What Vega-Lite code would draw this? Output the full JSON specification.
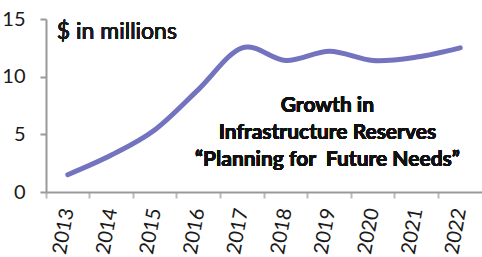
{
  "$schema": "https://vega.github.io/schema/vega-lite/v6.json",
  "autosize": "none",
  "width": 436,
  "height": 173,
  "padding": {"left": 46, "top": 19, "right": 0, "bottom": 65},
  "background": "white",
  "config": {"view": {"stroke": null}, "font": "Lato"},
  "data": {"values": [
    {"year": "2013", "value": 1.5},
    {"year": "2014", "value": 3.2},
    {"year": "2015", "value": 5.4},
    {"year": "2016", "value": 8.9},
    {"year": "2017", "value": 12.5},
    {"year": "2018", "value": 11.4},
    {"year": "2019", "value": 12.2},
    {"year": "2020", "value": 11.4},
    {"year": "2021", "value": 11.7},
    {"year": "2022", "value": 12.5}
  ]},
  "layer": [
    {
      "mark": {"type": "line", "interpolate": "cardinal", "color": "#7373bf", "strokeWidth": 5, "strokeCap": "round"},
      "encoding": {
        "x": {"field": "year", "type": "ordinal", "bandPosition": 0.5,
              "scale": {"type": "band", "paddingInner": 0, "paddingOuter": 0},
              "axis": {"title": null, "bandPosition": 0, "labelAngle": -80, "labelFontSize": 20, "labelFont": "Lato", "labelColor": "#1a1a1a", "domainColor": "#999999", "tickColor": "#bbbbbb", "tickSize": 6, "tickWidth": 2, "labelPadding": 10, "domainWidth": 2}},
        "y": {"field": "value", "type": "quantitative",
              "scale": {"domain": [0, 15], "nice": false},
              "axis": {"title": null, "values": [0, 5, 10, 15], "grid": false, "labelFontSize": 20, "labelFont": "Lato", "labelColor": "#1a1a1a", "domainColor": "#999999", "tickColor": "#999999", "tickSize": 6, "labelPadding": 15, "domainWidth": 2, "tickWidth": 2}}
      }
    },
    {
      "mark": {"type": "text", "text": "$ in millions", "align": "left", "baseline": "alphabetic", "fontSize": 23, "font": "Lato", "color": "#1a1a1a", "dx": -11},
      "encoding": {"x": {"datum": "2013"}, "y": {"datum": 13.3}}
    },
    {
      "mark": {"type": "text", "text": ["Growth in", "Infrastructure Reserves", "“Planning for\u00a0 Future Needs”"], "align": "center", "baseline": "alphabetic", "fontSize": 21, "fontWeight": "bold", "font": "Lato", "color": "#111111", "lineHeight": 27, "dx": -2},
      "encoding": {"x": {"datum": "2019"}, "y": {"datum": 6.9}}
    }
  ]
}
